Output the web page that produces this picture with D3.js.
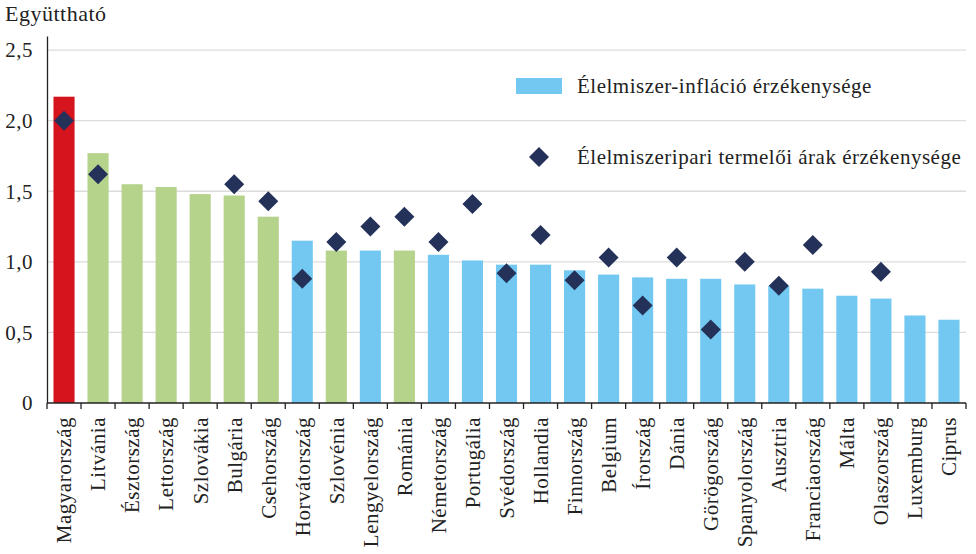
<!DOCTYPE html>
<html>
<head>
<meta charset="utf-8">
<script src="https://cdn.jsdelivr.net/npm/d3@7"></script>
<style>
  body { margin: 0; background: #fff; }
  svg text { font-family: "Liberation Serif", "DejaVu Serif", serif; fill: #222; letter-spacing: 0.5px; }
</style>
</head>
<body>
<div id="chart"></div>
<script>
// data
const countries = ["Magyarország", "Litvánia", "Észtország", "Lettország", "Szlovákia", "Bulgária",
  "Csehország", "Horvátország", "Szlovénia", "Lengyelország", "Románia", "Németország", "Portugália",
  "Svédország", "Hollandia", "Finnország", "Belgium", "Írország", "Dánia", "Görögország",
  "Spanyolország", "Ausztria", "Franciaország", "Málta", "Olaszország", "Luxemburg", "Ciprus"];
const foodInflation = [2.17, 1.77, 1.55, 1.53, 1.48, 1.47, 1.32, 1.15, 1.08, 1.08, 1.08, 1.05, 1.01,
  0.98, 0.98, 0.94, 0.91, 0.89, 0.88, 0.88, 0.84, 0.83, 0.81, 0.76, 0.74, 0.62, 0.59];
const producerPrices = [2.0, 1.62, null, null, null, 1.55, 1.43, 0.88, 1.14, 1.25, 1.32, 1.14, 1.41,
  0.92, 1.19, 0.87, 1.03, 0.69, 1.03, 0.52, 1.0, 0.83, 1.12, null, 0.93, null, null];
// bar colour group: h = Hungary, c = CEE, e = other
const groups = ["h", "c", "c", "c", "c", "c", "c", "e", "c", "e", "c", "e", "e",
  "e", "e", "e", "e", "e", "e", "e", "e", "e", "e", "e", "e", "e", "e"];
const yTicks = [0, 0.5, 1.0, 1.5, 2.0, 2.5];
const legendLabels = ["Élelmiszer-infláció érzékenysége", "Élelmiszeripari termelői árak érzékenysége"];

const colors = {h: "#d6141e", c: "#b5d38b", e: "#73c8f1"};
const diamondColor = "#243159";

const margin = {top: 36, right: 10, bottom: 151, left: 47},
    width = 976 - margin.left - margin.right,
    height = 554 - margin.top - margin.bottom;

const svg = d3.select("#chart")
  .append("svg")
    .attr("width", 976)
    .attr("height", 554)
  .append("g")
    .attr("transform", `translate(${margin.left},${margin.top})`);

const x = d3.scaleBand()
  .domain(countries)
  .range([0, width])
  .paddingInner(0.38)
  .paddingOuter(0.19);

const y = d3.scaleLinear()
  .domain([0, 2.6])
  .range([height, 0]);

// gridlines
svg.append("g")
  .selectAll("line")
  .data(yTicks.filter(d => d > 0))
  .join("line")
    .attr("x1", 0)
    .attr("x2", width)
    .attr("y1", d => y(d))
    .attr("y2", d => y(d))
    .attr("stroke", "#dcdcdc")
    .attr("stroke-width", 1.3);

// y axis
const yAxis = svg.append("g")
  .call(d3.axisLeft(y)
    .tickValues(yTicks)
    .tickSize(0)
    .tickPadding(14)
    .tickFormat(d => d === 0 ? "0" : d3.format(".1f")(d).replace(".", ",")));
yAxis.select(".domain").attr("stroke", "#222").attr("stroke-width", 1.3);
yAxis.selectAll("text").attr("font-size", 21).attr("fill", "#222")
  .style("font-family", "'Liberation Serif', serif");

// bars
svg.append("g")
  .selectAll("rect")
  .data(countries)
  .join("rect")
    .attr("x", d => x(d))
    .attr("width", x.bandwidth())
    .attr("y", (d, i) => y(foodInflation[i]))
    .attr("height", (d, i) => height - y(foodInflation[i]))
    .attr("fill", (d, i) => colors[groups[i]]);

// diamonds
const diamond = d3.symbol().type(d3.symbolSquare).size(200);
svg.append("g")
  .selectAll("path")
  .data(countries.map((c, i) => ({c, v: producerPrices[i]})).filter(d => d.v !== null))
  .join("path")
    .attr("d", diamond)
    .attr("transform", d => `translate(${x(d.c) + x.bandwidth() / 2},${y(d.v)}) rotate(45)`)
    .attr("fill", diamondColor);

// x axis with ticks at band edges
const step = x.step();
const xAxisG = svg.append("g")
  .attr("transform", `translate(0,${height})`);
xAxisG.append("line")
  .attr("x1", 0).attr("x2", width)
  .attr("stroke", "#222").attr("stroke-width", 1.3);
xAxisG.selectAll("line.tick")
  .data(d3.range(countries.length + 1))
  .join("line")
    .attr("class", "tick")
    .attr("x1", i => i * step)
    .attr("x2", i => i * step)
    .attr("y1", 0).attr("y2", 6)
    .attr("stroke", "#222").attr("stroke-width", 1.3);
xAxisG.selectAll("text")
  .data(countries)
  .join("text")
    .attr("transform", d => `translate(${x(d) + x.bandwidth() / 2},14) rotate(-90)`)
    .attr("text-anchor", "end")
    .attr("dy", "0.35em")
    .attr("font-size", 21)
    .text(d => d);

// axis title
svg.append("text")
  .attr("x", -42)
  .attr("y", -15)
  .attr("font-size", 22)
  .text("Együttható");

// legend
const legend = svg.append("g");
legend.append("rect")
  .attr("x", 469).attr("y", 42)
  .attr("width", 46).attr("height", 16)
  .attr("fill", colors.e);
legend.append("text")
  .attr("x", 530).attr("y", 50)
  .attr("dy", "0.35em")
  .attr("font-size", 21)
  .text(legendLabels[0]);
legend.append("path")
  .attr("d", diamond)
  .attr("transform", "translate(492,121) rotate(45)")
  .attr("fill", diamondColor);
legend.append("text")
  .attr("x", 530).attr("y", 121)
  .attr("dy", "0.35em")
  .attr("font-size", 21)
  .text(legendLabels[1]);
</script>
</body>
</html>
